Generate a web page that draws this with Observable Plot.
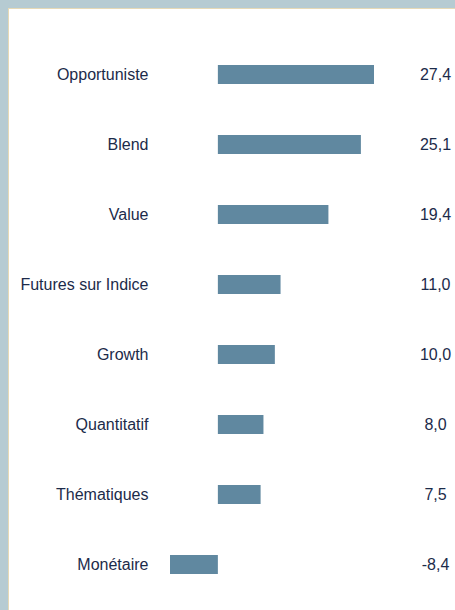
<!DOCTYPE html>
<html>
<head>
<meta charset="utf-8">
<script src="https://cdn.jsdelivr.net/npm/d3@7"></script>
<script src="https://cdn.jsdelivr.net/npm/@observablehq/plot@0.6"></script>
<style>
  html, body { margin: 0; padding: 0; background: #b6cbd2; }
  #wrap { position: relative; width: 455px; height: 610px; background: #b6cbd2; overflow: hidden; }
  #panel { position: absolute; left: 8px; top: 8px; width: 447px; height: 602px; background: #ffffff;
           border-top: 1px solid #e6d9b6; border-left: 1px solid #e6d9b6; box-sizing: border-box; }
  #chart { position: absolute; left: 0; top: 0; }
</style>
</head>
<body>
<div id="wrap"><div id="panel"></div><div id="chart"></div></div>
<script>
const categories = ["Opportuniste", "Blend", "Value", "Futures sur Indice", "Growth", "Quantitatif", "Thématiques", "Monétaire"];
const values = [27.4, 25.1, 19.4, 11.0, 10.0, 8.0, 7.5, -8.4];
const valueLabels = ["27,4", "25,1", "19,4", "11,0", "10,0", "8,0", "7,5", "-8,4"];

const data = categories.map((c, i) => ({cat: c, v: values[i], label: valueLabels[i]}));

const textColor = "#1c2b4a";
const barColor = "#6088a0";

const chart = Plot.plot({
  width: 455,
  height: 610,
  marginLeft: 170,
  marginRight: 81,
  marginTop: 30,
  marginBottom: 1,
  style: {background: "transparent", fontFamily: "Liberation Sans, Arial, sans-serif", fontSize: "16px", color: textColor},
  x: {domain: [-8.4, 27.4], axis: null},
  y: {domain: categories, paddingInner: 0.7286, paddingOuter: 0.5, round: false, axis: null},
  marks: [
    Plot.barX(data, {x: "v", y: "cat", fill: barColor}),
    Plot.axisY({tickSize: 0, tickPadding: 22, fontSize: 16, fill: textColor, label: null, textAnchor: "end"}),
    Plot.text(data, {y: "cat", text: "label", frameAnchor: "right", dx: 61, textAnchor: "middle", fill: textColor, fontSize: 16})
  ]
});
document.getElementById("chart").appendChild(chart);
</script>
</body>
</html>
